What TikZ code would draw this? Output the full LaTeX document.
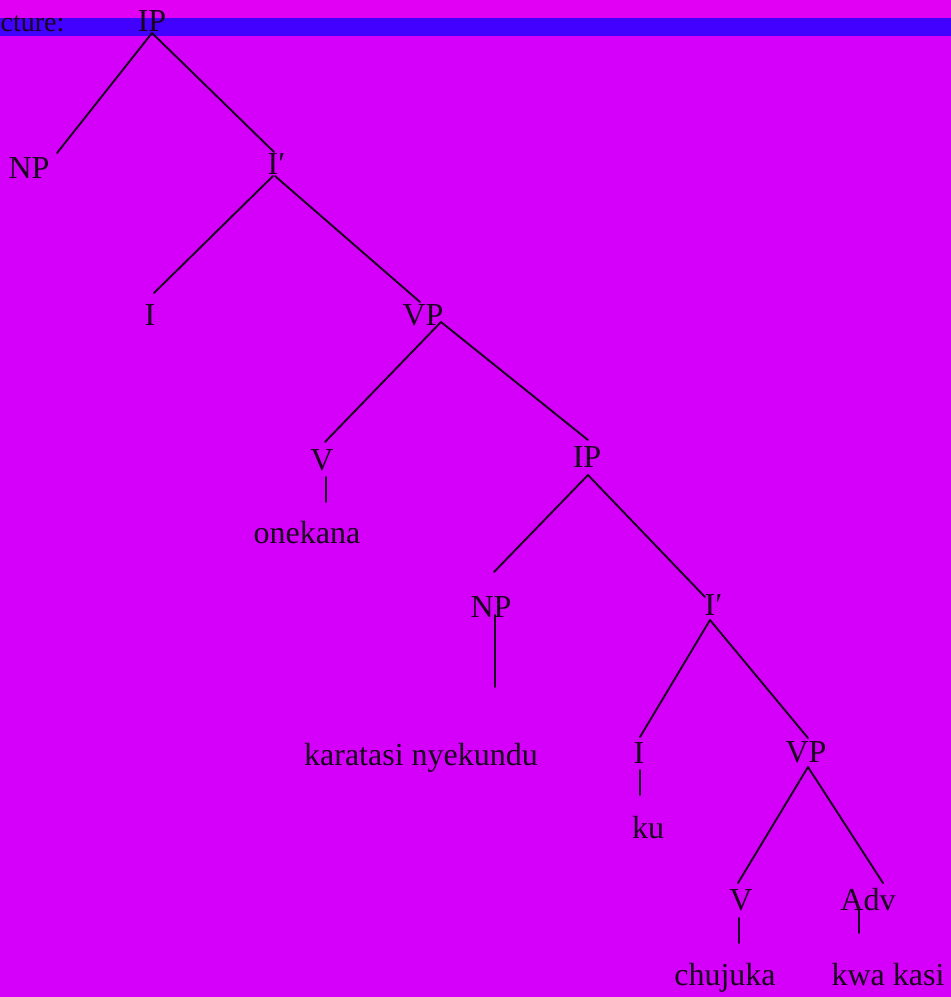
\documentclass[tikz,border=0pt]{standalone}
\usepackage{fontspec}
\setmainfont{Liberation Serif}
\usetikzlibrary{calc}
\definecolor{bgmag}{RGB}{212,0,250}
\definecolor{bgtop}{RGB}{226,0,244}
\definecolor{bandblue}{RGB}{66,0,255}
\definecolor{inkc}{RGB}{25,0,30}
\begin{document}
\begin{tikzpicture}[x=1pt,y=-1pt,
  lbl/.style={inner sep=0pt,anchor=base,text=inkc,font=\fontsize{32}{36}\selectfont},
  edge/.style={draw=inkc,line width=1.9pt,line cap=round}]
\useasboundingbox (0,0) rectangle (951,997);
\fill[bgmag] (0,0) rectangle (951,997);
\fill[bgtop] (0,0) rectangle (951,18);
\fill[bandblue] (0,18) rectangle (951,36);
% labels
\node[lbl,anchor=base west,font=\fontsize{28}{32}\selectfont] (head) at (0.5,31) {cture:};
\node[lbl] (IP0) at (152,31) {IP};
\node[lbl] (NP1) at (29,178) {NP};
\node[lbl] (Ib1) at (273,174) {I\rlap{′}};
\node[lbl] (I2) at (150,325) {I};
\node[lbl] (VP2) at (423,325) {VP};
\node[lbl] (V3) at (322,470) {V};
\node[lbl] (onekana) at (307,543) {onekana};
\node[lbl] (IP3) at (587,467) {IP};
\node[lbl] (NP4) at (491,617) {NP};
\node[lbl] (Ib4) at (710,615) {I\rlap{′}};
\node[lbl] (karatasi) at (421,765) {karatasi nyekundu};
\node[lbl] (I5) at (639,763) {I};
\node[lbl] (VP5) at (806,762) {VP};
\node[lbl] (ku) at (648,838) {ku};
\node[lbl] (V6) at (741,910) {V};
\node[lbl] (Adv6) at (868,910) {Adv};
\node[lbl] (chujuka) at (725,985) {chujuka};
\node[lbl] (kwakasi) at (888,985) {kwa kasi};
% connectors
\draw[edge] ($(IP0.base)+(0,2)$) -- ($(NP1.base)+(28,-25)$);
\draw[edge] ($(IP0.base)+(0,2)$) -- ($(Ib1.base)+(1,-22)$);
\draw[edge] ($(Ib1.base)+(0,2)$) -- ($(I2.base)+(4,-32)$);
\draw[edge] ($(Ib1.base)+(2,2)$) -- ($(VP2.base)+(-3,-23)$);
\draw[edge] ($(VP2.base)+(18,-3)$) -- ($(V3.base)+(3,-28)$);
\draw[edge] ($(VP2.base)+(18,-3)$) -- ($(IP3.base)+(1,-27)$);
\draw[edge] ($(V3.base)+(4,7)$) -- ($(onekana.base)+(19,-41)$);
\draw[edge] ($(IP3.base)+(1,8)$) -- ($(NP4.base)+(3,-45)$);
\draw[edge] ($(IP3.base)+(1,8)$) -- ($(Ib4.base)+(-5,-18)$);
\draw[edge] ($(NP4.base)+(4,-2)$) -- ($(karatasi.base)+(74,-78)$);
\draw[edge] ($(Ib4.base)+(0,5)$) -- ($(I5.base)+(1,-26)$);
\draw[edge] ($(Ib4.base)+(0,5)$) -- ($(VP5.base)+(2,-24)$);
\draw[edge] ($(I5.base)+(1,7)$) -- ($(ku.base)+(-8,-43)$);
\draw[edge] ($(VP5.base)+(2,5)$) -- ($(V6.base)+(-3,-27)$);
\draw[edge] ($(VP5.base)+(2,5)$) -- ($(Adv6.base)+(15,-27)$);
\draw[edge] ($(V6.base)+(-2,8)$) -- ($(chujuka.base)+(14,-42)$);
\draw[edge] ($(Adv6.base)+(-9,-2)$) -- ($(kwakasi.base)+(-29,-52)$);
\end{tikzpicture}
\end{document}
